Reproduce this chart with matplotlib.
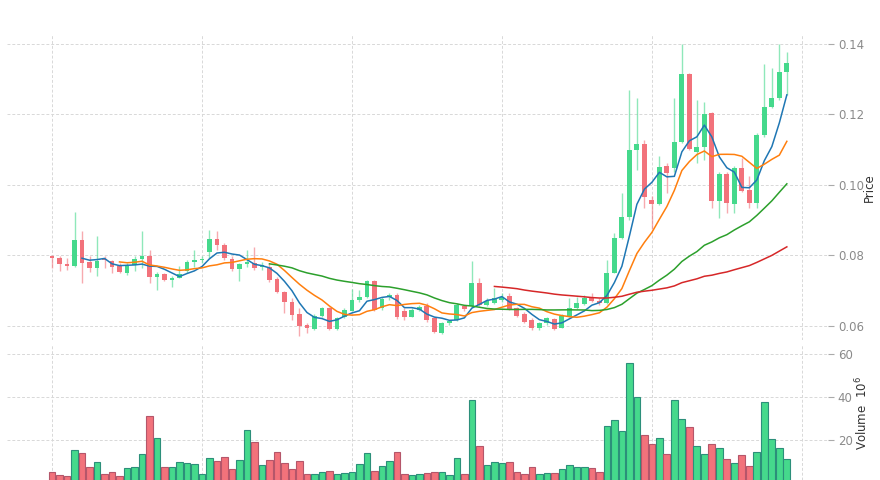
import matplotlib
matplotlib.use("Agg")
import matplotlib.pyplot as plt
import numpy as np
import pandas as pd

# OHLC values, one entry per session
opens = [0.0799, 0.0794, 0.0776, 0.0771, 0.0843, 0.0780, 0.0763, 0.0791, 0.0784, 0.0769,
         0.0751, 0.0772, 0.0791, 0.0797, 0.0738, 0.0747, 0.0729, 0.0737, 0.0756, 0.0782,
         0.0787, 0.0810, 0.0847, 0.0830, 0.0791, 0.0761, 0.0776, 0.0778, 0.0767, 0.0768,
         0.0733, 0.0697, 0.0669, 0.0634, 0.0603, 0.0591, 0.0628, 0.0650, 0.0591, 0.0626,
         0.0643, 0.0674, 0.0683, 0.0726, 0.0650, 0.0681, 0.0688, 0.0643, 0.0626, 0.0645,
         0.0657, 0.0622, 0.0579, 0.0608, 0.0617, 0.0657, 0.0657, 0.0723, 0.0660, 0.0664,
         0.0674, 0.0685, 0.0650, 0.0634, 0.0617, 0.0593, 0.0608, 0.0619, 0.0595, 0.0628,
         0.0650, 0.0662, 0.0681, 0.0672, 0.0664, 0.0751, 0.0849, 0.0910, 0.1099, 0.1116,
         0.0957, 0.0945, 0.1054, 0.1047, 0.1123, 0.1314, 0.1094, 0.1109, 0.1204, 0.0955,
         0.1031, 0.0946, 0.1047, 0.0986, 0.0950, 0.1142, 0.1222, 0.1246, 0.1321]
highs = [0.0801, 0.0797, 0.0793, 0.0923, 0.0870, 0.0797, 0.0855, 0.0799, 0.0787, 0.0778,
         0.0779, 0.0799, 0.0868, 0.0814, 0.0754, 0.0751, 0.0742, 0.0770, 0.0787, 0.0814,
         0.0797, 0.0872, 0.0868, 0.0835, 0.0797, 0.0779, 0.0816, 0.0823, 0.0782, 0.0778,
         0.0739, 0.0700, 0.0679, 0.0651, 0.0609, 0.0634, 0.0655, 0.0655, 0.0626, 0.0650,
         0.0704, 0.0702, 0.0730, 0.0730, 0.0683, 0.0693, 0.0693, 0.0650, 0.0650, 0.0660,
         0.0664, 0.0626, 0.0612, 0.0617, 0.0664, 0.0660, 0.0784, 0.0735, 0.0679, 0.0707,
         0.0693, 0.0693, 0.0655, 0.0638, 0.0622, 0.0611, 0.0626, 0.0623, 0.0634, 0.0679,
         0.0683, 0.0688, 0.0694, 0.0679, 0.0787, 0.0863, 0.0976, 0.1270, 0.1246, 0.1128,
         0.0969, 0.1082, 0.1062, 0.1248, 0.1400, 0.1318, 0.1241, 0.1236, 0.1207, 0.1037,
         0.1037, 0.1054, 0.1076, 0.1024, 0.1148, 0.1343, 0.1331, 0.1400, 0.1378]
lows = [0.0765, 0.0757, 0.0759, 0.0768, 0.0722, 0.0754, 0.0742, 0.0765, 0.0750, 0.0750,
        0.0745, 0.0757, 0.0765, 0.0721, 0.0702, 0.0726, 0.0710, 0.0735, 0.0750, 0.0768,
        0.0778, 0.0792, 0.0816, 0.0787, 0.0755, 0.0726, 0.0768, 0.0759, 0.0759, 0.0725,
        0.0694, 0.0637, 0.0617, 0.0570, 0.0580, 0.0589, 0.0626, 0.0589, 0.0589, 0.0622,
        0.0641, 0.0669, 0.0679, 0.0643, 0.0645, 0.0674, 0.0619, 0.0617, 0.0625, 0.0641,
        0.0612, 0.0579, 0.0577, 0.0603, 0.0615, 0.0643, 0.0655, 0.0657, 0.0657, 0.0662,
        0.0669, 0.0645, 0.0625, 0.0609, 0.0589, 0.0589, 0.0603, 0.0589, 0.0593, 0.0626,
        0.0648, 0.0660, 0.0669, 0.0660, 0.0662, 0.0750, 0.0847, 0.0901, 0.1043, 0.0934,
        0.0875, 0.0943, 0.0977, 0.1037, 0.1119, 0.1099, 0.1062, 0.1071, 0.0934, 0.0906,
        0.0920, 0.0920, 0.0980, 0.0935, 0.0934, 0.1137, 0.1218, 0.1241, 0.1255]
closes = [0.0793, 0.0775, 0.0771, 0.0843, 0.0778, 0.0765, 0.0784, 0.0787, 0.0767, 0.0752,
          0.0770, 0.0789, 0.0799, 0.0738, 0.0748, 0.0729, 0.0737, 0.0748, 0.0781, 0.0786,
          0.0790, 0.0847, 0.0830, 0.0792, 0.0761, 0.0775, 0.0782, 0.0764, 0.0773, 0.0729,
          0.0697, 0.0669, 0.0631, 0.0600, 0.0593, 0.0628, 0.0652, 0.0591, 0.0622, 0.0645,
          0.0674, 0.0683, 0.0726, 0.0645, 0.0676, 0.0688, 0.0626, 0.0624, 0.0645, 0.0655,
          0.0617, 0.0584, 0.0608, 0.0615, 0.0660, 0.0647, 0.0723, 0.0660, 0.0671, 0.0679,
          0.0683, 0.0647, 0.0628, 0.0612, 0.0593, 0.0608, 0.0622, 0.0591, 0.0629, 0.0650,
          0.0664, 0.0679, 0.0672, 0.0664, 0.0751, 0.0849, 0.0910, 0.1099, 0.1116, 0.0966,
          0.0946, 0.1052, 0.1035, 0.1123, 0.1314, 0.1102, 0.1109, 0.1201, 0.0955, 0.1031,
          0.0948, 0.1047, 0.0984, 0.0950, 0.1142, 0.1222, 0.1246, 0.1321, 0.1347]
# volume in millions
volumes = [5.0, 3.7, 3.4, 15.3, 14.1, 7.4, 9.9, 4.2, 5.0, 3.4,
           6.8, 7.4, 13.3, 31.2, 21.1, 7.3, 7.4, 9.6, 9.3, 8.7,
           4.2, 11.8, 10.1, 12.1, 6.4, 10.7, 24.8, 18.9, 8.2, 10.8,
           14.6, 9.5, 6.4, 10.1, 4.2, 4.2, 5.0, 5.4, 4.2, 4.5,
           5.1, 8.7, 14.1, 5.6, 7.8, 10.2, 14.6, 4.2, 3.7, 4.2,
           4.8, 5.1, 5.3, 3.7, 11.8, 4.0, 38.6, 17.2, 8.4, 9.6,
           9.3, 9.6, 5.3, 4.0, 7.6, 4.0, 4.8, 4.8, 6.5, 8.4,
           7.6, 7.4, 7.0, 5.0, 26.7, 29.3, 24.3, 55.7, 40.2, 22.2,
           18.1, 21.1, 13.5, 38.5, 29.8, 25.9, 17.4, 13.6, 18.3, 16.1,
           11.2, 9.2, 12.9, 7.8, 14.3, 37.8, 20.5, 16.4, 11.3]
mav_periods = [5, 10, 30, 60]
mav_colors = ['#1f77b4', '#ff7f0e', '#2ca02c', '#d62728']

up_col = '#45d98c'
down_col = '#f2727b'

df = pd.DataFrame({'Open': opens, 'High': highs, 'Low': lows,
                   'Close': closes, 'Volume': volumes})
x = np.arange(len(df))
is_up = df['Close'] >= df['Open']
cols = np.where(is_up, up_col, down_col)
edge_cols = np.where(is_up, '#2c8f7a', '#b5566a')

fig = plt.figure(figsize=(8.8, 4.8), dpi=100)
ax = fig.add_axes([0.008, 0.2917, 0.933, 0.635])
axv = fig.add_axes([0.008, 0.0, 0.933, 0.281])

grid_kw = dict(color='#d8d8d8', linestyle=(0, (3, 2)), linewidth=0.7)

# Candles
ax.vlines(x, df['Low'], df['High'], colors=cols, linewidth=1.0, alpha=0.6, zorder=2)
body_bottom = np.minimum(df['Open'], df['Close'])
body_h = np.maximum(np.abs(df['Close'] - df['Open']), 0.0003)
ax.bar(x, body_h, bottom=body_bottom, width=0.65, color=cols, linewidth=0, zorder=3)

# Moving averages
for p, c in zip(mav_periods, mav_colors):
    ax.plot(x, df['Close'].rolling(p).mean(), color=c, linewidth=1.1, zorder=4)

# Volume
axv.bar(x, df['Volume'], width=0.9, color=cols, edgecolor=edge_cols, linewidth=0.8, zorder=3)

for a in (ax, axv):
    a.set_xlim(-6, 103.5)
    a.set_xticks(np.arange(0, 101, 20))
    a.tick_params(axis='x', bottom=False, labelbottom=False)
    a.yaxis.tick_right()
    a.yaxis.set_label_position('right')
    a.tick_params(axis='y', length=4, color='#aaaaaa', labelcolor='#8a8a8a',
                  labelsize=8.5, pad=3)
    a.grid(True, **grid_kw)
    a.set_axisbelow(True)
    for s in a.spines.values():
        s.set_visible(False)

ax.set_ylim(0.056, 0.1425)
ax.set_yticks([0.06, 0.08, 0.10, 0.12, 0.14])
ax.set_yticklabels(['0.06', '0.08', '0.10', '0.12', '0.14'])
ax.set_ylabel('Price', fontsize=8.5, color='#333333', labelpad=-1)

axv.set_ylim(1.4, 64.2)
axv.set_yticks([20, 40, 60])
axv.set_ylabel('Volume  $10^{6}$', fontsize=8.5, color='#333333', labelpad=1)

fig.savefig('out.png', dpi=100)
